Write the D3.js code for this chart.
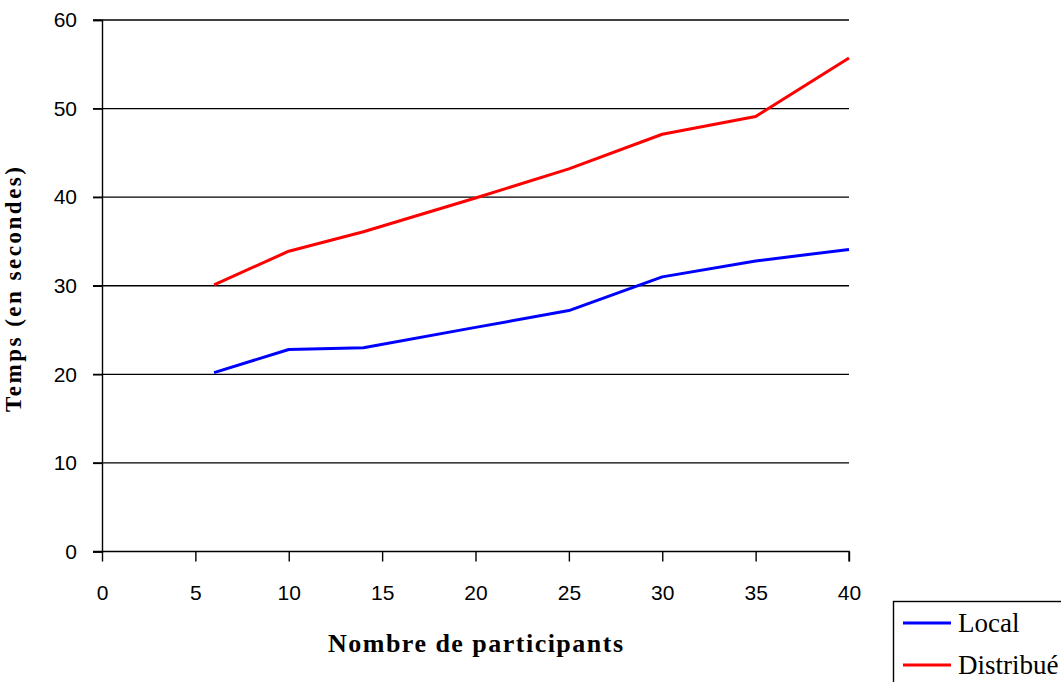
<!DOCTYPE html>
<html>
<head>
<meta charset="utf-8">
<script src="https://cdn.jsdelivr.net/npm/d3@7"></script>
<style>
  body { margin: 0; background: #fff; }
  svg text { fill: #000; }
</style>
</head>
<body>
<svg id="chart" width="1061" height="682"></svg>
<script>
// temps de traitement selon le nombre de participants
const participants = [6, 10, 14, 20, 25, 30, 35, 40];
const local = [20.2, 22.8, 23.0, 25.3, 27.2, 31.0, 32.8, 34.1];
const distribue = [30.1, 33.9, 36.1, 39.9, 43.2, 47.1, 49.1, 55.7];
const xTicks = [0, 5, 10, 15, 20, 25, 30, 35, 40];
const yTicks = [0, 10, 20, 30, 40, 50, 60];
const seriesNames = ['Local', 'Distribué'];

const svg = d3.select('#chart');

const x = d3.scaleLinear().domain([0, 40]).range([102, 849]);
const y = d3.scaleLinear().domain([0, 60]).range([551.5, 20]);

const tickFont = '"Liberation Sans", sans-serif';
const serif = '"Liberation Serif", serif';

// horizontal grid lines
svg.append('g')
  .selectAll('line')
  .data(yTicks.filter(d => d > 0))
  .enter()
  .append('line')
  .attr('x1', 93)
  .attr('x2', x(40))
  .attr('y1', d => y(d))
  .attr('y2', d => y(d))
  .attr('stroke', '#000')
  .attr('stroke-width', 1.4);

// y axis
const yAxis = svg.append('g')
  .attr('transform', `translate(${x(0)},0)`)
  .call(d3.axisLeft(y).tickValues(yTicks).tickSize(9).tickPadding(16));
yAxis.select('.domain').attr('stroke-width', 1.4);
yAxis.selectAll('line').attr('stroke-width', 1.4);
yAxis.selectAll('text')
  .style('font-family', tickFont)
  .style('font-size', '21px');

// x axis
const xAxis = svg.append('g')
  .attr('transform', `translate(0,${y(0)})`)
  .call(d3.axisBottom(x).tickValues(xTicks).tickSize(10).tickPadding(24));
xAxis.select('.domain').attr('d', `M93,0H${x(40)}V10`).attr('stroke-width', 1.4);
xAxis.selectAll('line').attr('stroke-width', 1.4);
xAxis.selectAll('text')
  .style('font-family', tickFont)
  .style('font-size', '21px');

// axis titles
svg.append('text')
  .attr('x', 328)
  .attr('y', 652)
  .attr('textLength', 295)
  .attr('lengthAdjust', 'spacing')
  .style('font-family', serif)
  .style('font-weight', 'bold')
  .style('font-size', '26px')
  .text('Nombre de participants');

svg.append('text')
  .attr('transform', 'translate(21,412) rotate(-90)')
  .attr('textLength', 245)
  .attr('lengthAdjust', 'spacing')
  .style('font-family', serif)
  .style('font-weight', 'bold')
  .style('font-size', '23px')
  .text('Temps (en secondes)');

// lines
const line = d3.line()
  .x((d, i) => x(participants[i]))
  .y(d => y(d));

const series = [
  { name: seriesNames[0], values: local, color: '#0000ff' },
  { name: seriesNames[1], values: distribue, color: '#ff0000' }
];

svg.selectAll('.serie')
  .data(series)
  .enter()
  .append('path')
  .attr('class', 'serie')
  .attr('d', d => line(d.values))
  .attr('fill', 'none')
  .attr('stroke', d => d.color)
  .attr('stroke-width', 3)
  .attr('stroke-linejoin', 'round');

// legend
const legend = svg.append('g').attr('transform', 'translate(893,601)');
legend.append('rect')
  .attr('x', 0.5)
  .attr('y', 0.5)
  .attr('width', 180)
  .attr('height', 100)
  .attr('fill', '#fff')
  .attr('stroke', '#000')
  .attr('stroke-width', 1.4);

const item = legend.selectAll('.item')
  .data(series)
  .enter()
  .append('g')
  .attr('transform', (d, i) => `translate(0,${22 + i * 42})`);
item.append('line')
  .attr('x1', 10)
  .attr('x2', 58)
  .attr('stroke', d => d.color)
  .attr('stroke-width', 3);
item.append('text')
  .attr('x', 65)
  .attr('y', 9)
  .style('font-family', serif)
  .style('font-size', '27px')
  .text(d => d.name);
</script>
</body>
</html>
